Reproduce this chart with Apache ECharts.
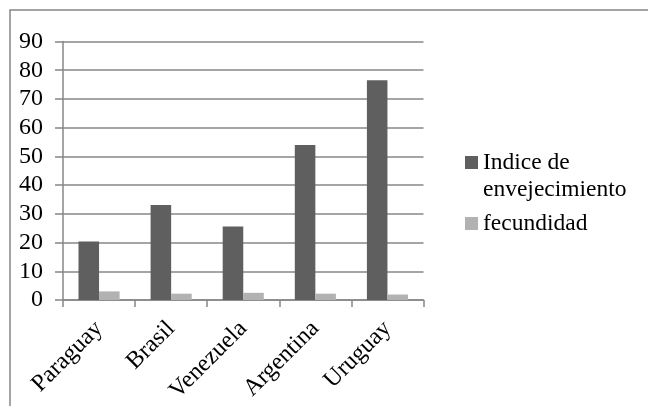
<!DOCTYPE html>
<html>
<head>
<meta charset="utf-8">
<script src="https://cdn.jsdelivr.net/npm/echarts@6/dist/echarts.min.js"></script>
<style>
  html, body { margin: 0; padding: 0; background: #fff; }
  #chart { width: 648px; height: 406px; }
</style>
</head>
<body>
<div id="chart"></div>
<script>
// Countries shown along the category axis
const countries = ['Paraguay', 'Brasil', 'Venezuela', 'Argentina', 'Uruguay'];
// Ageing index per country
const indiceEnvejecimiento = [20.4, 33.1, 25.6, 54.0, 76.5];
// Fertility rate per country
const fecundidad = [3.0, 2.2, 2.5, 2.2, 1.9];
// Value-axis range
const yMin = 0, yMax = 90, yStep = 10;

const serifFont = "'Liberation Serif', 'Times New Roman', serif";
const lineGray = '#878787';
const darkGray = '#5f5f5f';
const lightGray = '#b2b2b2';

const chart = echarts.init(document.getElementById('chart'), null, { renderer: 'canvas' });

chart.setOption({
  animation: false,
  backgroundColor: '#ffffff',
  textStyle: { fontFamily: serifFont },
  graphic: [{
    type: 'rect',
    shape: { x: 10, y: 10, width: 700, height: 500 },
    style: { fill: 'none', stroke: lineGray, lineWidth: 1.5 },
    silent: true
  }],
  grid: { left: 63, right: 224.5, top: 41.5, bottom: 106, containLabel: false },
  legend: [
    {
      // a blank leading line keeps the swatch level with the first text line
      data: [{ name: 'Indice de envejecimiento' }],
      left: 460, top: 117,
      orient: 'vertical',
      icon: 'rect', itemWidth: 13, itemHeight: 13,
      formatter: () => ' \nIndice de\nenvejecimiento',
      textStyle: { fontFamily: serifFont, fontSize: 23.5, color: '#000', lineHeight: 27 },
      selectedMode: false
    },
    {
      data: [{ name: 'fecundidad' }],
      left: 460, top: 205,
      orient: 'vertical',
      icon: 'rect', itemWidth: 13, itemHeight: 13,
      textStyle: { fontFamily: serifFont, fontSize: 23.5, color: '#000', lineHeight: 27 },
      selectedMode: false
    }
  ],
  xAxis: {
    type: 'category',
    data: countries,
    axisLine: { lineStyle: { color: lineGray, width: 1.5 } },
    axisTick: { show: true, length: 7, lineStyle: { color: lineGray, width: 1.5 } },
    axisLabel: { rotate: 45, margin: 25, fontFamily: serifFont, fontSize: 24, color: '#000', interval: 0 }
  },
  yAxis: {
    type: 'value',
    min: yMin, max: yMax, interval: yStep,
    axisLine: { show: true, lineStyle: { color: lineGray, width: 1.5 } },
    axisTick: { show: true, length: 8, lineStyle: { color: lineGray, width: 1.5 } },
    splitLine: { show: true, lineStyle: { color: lineGray, width: 1.5 } },
    axisLabel: { margin: 20, fontFamily: serifFont, fontSize: 24, color: '#000' }
  },
  series: [
    {
      name: 'Indice de envejecimiento',
      type: 'bar',
      data: indiceEnvejecimiento,
      itemStyle: { color: darkGray },
      barGap: '0%',
      barCategoryGap: '43%'
    },
    {
      name: 'fecundidad',
      type: 'bar',
      data: fecundidad,
      itemStyle: { color: lightGray }
    }
  ]
});
</script>
</body>
</html>
